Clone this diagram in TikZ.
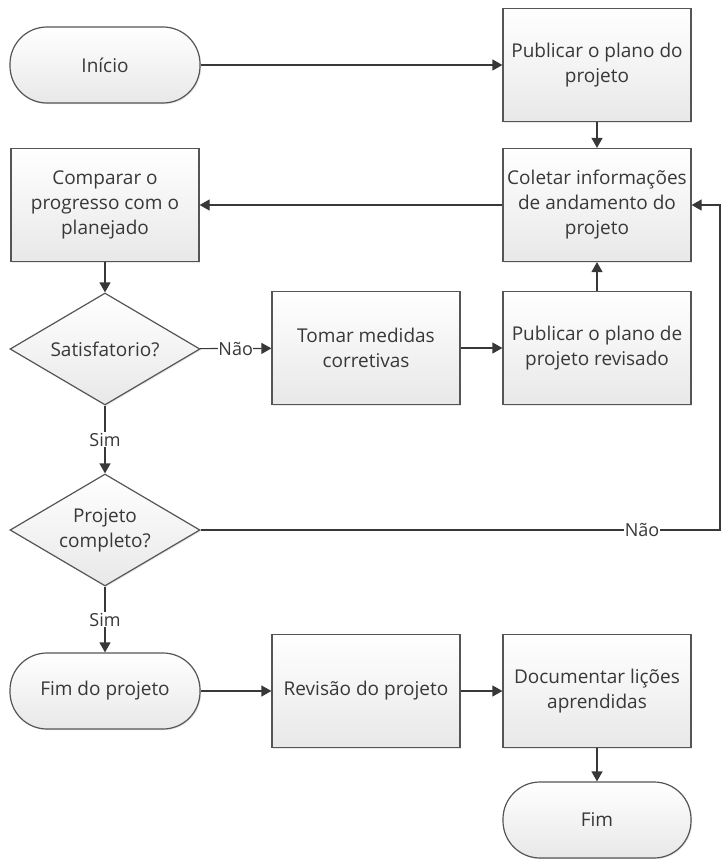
\documentclass[tikz,border=0pt]{standalone}
\usepackage{fontspec}
\setmainfont{Open Sans}
\usetikzlibrary{shapes.geometric,arrows.meta,shadows}
\definecolor{ink}{HTML}{383838}
\definecolor{edge}{HTML}{555555}
\begin{document}
\begin{tikzpicture}[x=1pt,y=-1pt,
  base/.style={draw=edge, line width=1.2pt, top color=white, bottom color=black!9,
    text=ink, font=\fontsize{19}{25}\selectfont, align=center, inner sep=1pt,
    drop shadow={shadow xshift=1.2pt, shadow yshift=-1.2pt, opacity=0.18}},
  proc/.style={base, rectangle, minimum width=188pt, minimum height=113pt},
  term/.style={base, rectangle, rounded corners=37pt, minimum width=190pt, minimum height=76pt},
  dec/.style={base, diamond, aspect=1.7, minimum width=190pt, minimum height=112pt},
  flow/.style={draw=ink, line width=1.2pt, -{Triangle[length=10pt,width=11pt]}},
  lab/.style={fill=white, text=ink, inner sep=0.5pt, font=\fontsize{18}{20}\selectfont}
]
\useasboundingbox (0,0) rectangle (723,859);

% shapes
\node[term] (inicio) at (105,65) {Início};
\node[proc] (pub) at (597,65) {Publicar o plano do\\projeto};
\node[proc] (colet) at (597,205) {Coletar informações\\de andamento do\\projeto};
\node[proc] (comp) at (105,205) {Comparar o\\progresso com o\\planejado};
\node[dec] (sat) at (105,349) {Satisfatorio?};
\node[proc] (tomar) at (366,348) {Tomar medidas\\corretivas};
\node[proc] (rev) at (597,348) {Publicar o plano de\\projeto revisado};
\node[dec] (proj) at (105,530) {Projeto\\completo?};
\node[term] (fimproj) at (105,691) {Fim do projeto};
\node[proc] (revisao) at (366,691) {Revisão do projeto};
\node[proc] (doc) at (597,691) {Documentar lições\\aprendidas};
\node[term, minimum width=188pt] (fim) at (597,820) {Fim};
\coordinate (loop) at (720,205);

% connectors
\draw[flow] (inicio) -- (pub);
\draw[flow] (pub) -- (colet);
\draw[flow] (colet) -- (comp);
\draw[flow] (comp) -- (sat);
\draw[flow] (sat) -- node[lab] {Não} (tomar);
\draw[flow] (tomar) -- (rev);
\draw[flow] (rev) -- (colet);
\draw[flow] (sat) -- node[lab] {Sim} (proj);
\draw[flow] (proj.east) -- node[lab, pos=0.85] {Não} (proj.east -| loop) -- (loop) -- (colet.east);
\draw[flow] (proj) -- node[lab] {Sim} (fimproj);
\draw[flow] (fimproj) -- (revisao);
\draw[flow] (revisao) -- (doc);
\draw[flow] (doc) -- (fim);
\end{tikzpicture}
\end{document}
